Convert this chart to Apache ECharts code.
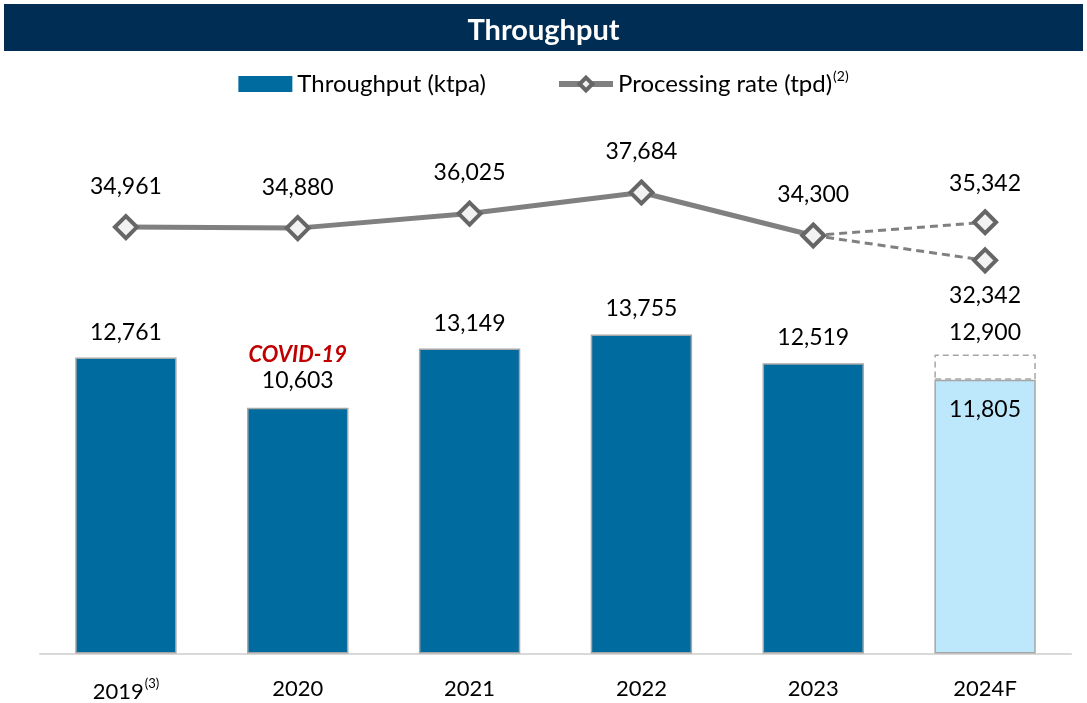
<!DOCTYPE html>
<html>
<head>
<meta charset="utf-8">
<script src="https://cdn.jsdelivr.net/npm/echarts@6/dist/echarts.min.js"></script>
<style>
  html, body { margin: 0; padding: 0; background: #fff; }
  #chart { width: 1087px; height: 703px; }
</style>
</head>
<body>
<div id="chart"></div>
<script>
// data
const years = ['2019', '2020', '2021', '2022', '2023', '2024F']
const throughput = [12761, 10603, 13149, 13755, 12519, 11805]
const throughputForecast = 12900
const rate = [34961, 34880, 36025, 37684, 34300]
const rateHigh = 35342
const rateLow = 32342

const FONT = 'Lato'
const fmt = v => Number(v).toLocaleString('en-US')

// build series arrays
const last = years.length - 1
const mainBars = throughput.map((v, i) => i === last
  ? { value: v, itemStyle: { color: '#bde7fa', borderColor: '#a6a6a6' }, label: { position: 'insideTop', distance: 18 } }
  : v)
const boxBars = years.map((y, i) => i === last ? throughputForecast - throughput[last] : null)
const rateLine = rate.concat([null])
const dashHigh = years.map((y, i) => i === last - 1 ? { value: rate[i], symbol: 'none', label: { show: false } } : (i === last ? rateHigh : null))
const dashLow = years.map((y, i) => i === last - 1 ? { value: rate[i], symbol: 'none', label: { show: false } } : (i === last ? rateLow : null))

const chart = echarts.init(document.getElementById('chart'))

const markerStyle = {
  symbol: 'diamond',
  symbolSize: 22,
  itemStyle: { color: '#f2f2f2', borderColor: '#666666', borderWidth: 4 }
}

chart.setOption({
  animation: false,
  textStyle: { fontFamily: FONT, color: '#000' },
  graphic: [{
    type: 'rect',
    shape: { x: 4, y: 4, width: 1079, height: 47 },
    style: { fill: '#002d54' },
    z: -1
  }],
  title: {
    text: 'Throughput',
    left: 'center',
    top: 11,
    textStyle: { color: '#fff', fontSize: 29, fontWeight: 'bold', fontFamily: FONT }
  },
  legend: {
    data: [
      { name: 'Throughput (ktpa)', icon: 'rect', itemStyle: { borderWidth: 0 } },
      {
        name: 'Processing rate (tpd)',
        lineStyle: { width: 6, color: '#808080' },
        itemStyle: { color: '#f2f2f2', borderColor: '#666666', borderWidth: 4 }
      }
    ],
    top: 64,
    left: 'center',
    itemGap: 70,
    itemWidth: 54,
    itemHeight: 16,
    formatter: name => name === 'Processing rate (tpd)' ? name + '{s|(2)}' : name,
    textStyle: {
      fontSize: 24,
      fontFamily: FONT,
      color: '#000',
      rich: { s: { fontSize: 14, verticalAlign: 'top', padding: [0, 0, 16, 1], fontFamily: FONT } }
    }
  },
  grid: { left: 40, right: 16, top: 97, bottom: 49 },
  xAxis: {
    type: 'category',
    data: years,
    axisLine: { lineStyle: { color: '#d9d9d9', width: 2 } },
    axisTick: { show: false },
    axisLabel: {
      fontSize: 22,
      margin: 24,
      color: '#000',
      fontFamily: FONT,
      formatter: v => v === '2019' ? v + '{s|(3)}' : v,
      rich: { s: { fontSize: 13, verticalAlign: 'top', padding: [0, 0, 16, 1], fontFamily: FONT } }
    }
  },
  yAxis: [
    { type: 'value', min: 0, max: 24000, show: false, splitLine: { show: false } },
    { type: 'value', min: 1400, max: 45200, show: false, splitLine: { show: false } }
  ],
  series: [
    {
      name: 'Throughput (ktpa)',
      type: 'bar',
      stack: 'tp',
      barWidth: '59%',
      data: mainBars,
      itemStyle: { color: '#006b9e', borderColor: '#a6a6a6', borderWidth: 1.5 },
      label: {
        show: true,
        position: 'top',
        distance: 14,
        fontSize: 23,
        color: '#000',
        fontFamily: FONT,
        formatter: p => p.dataIndex === 1 ? '{c|COVID-19}\n{v|' + fmt(p.value) + '}' : fmt(p.value),
        rich: {
          c: { color: '#c00000', fontSize: 22, fontWeight: 'bold', fontStyle: 'italic', fontFamily: FONT, lineHeight: 26 },
          v: { fontSize: 23, color: '#000', fontFamily: FONT, lineHeight: 26 }
        }
      },
      z: 2
    },
    {
      name: 'forecast',
      type: 'bar',
      stack: 'tp',
      data: boxBars,
      itemStyle: { color: '#fff', borderColor: '#a6a6a6', borderWidth: 1.5, borderType: [6, 4] },
      label: {
        show: true,
        position: 'top',
        distance: 10,
        fontSize: 23,
        color: '#000',
        fontFamily: FONT,
        formatter: () => fmt(throughputForecast)
      }
    },
    {
      name: 'dashHigh',
      type: 'line',
      yAxisIndex: 1,
      data: dashHigh,
      ...markerStyle,
      lineStyle: { color: '#808080', width: 3, type: [8, 5] },
      label: { show: true, position: 'top', distance: 14, fontSize: 23, color: '#000', fontFamily: FONT, formatter: p => fmt(p.value) },
      z: 3
    },
    {
      name: 'dashLow',
      type: 'line',
      yAxisIndex: 1,
      data: dashLow,
      ...markerStyle,
      lineStyle: { color: '#808080', width: 3, type: [8, 5] },
      label: { show: true, position: 'bottom', distance: 11, fontSize: 23, color: '#000', fontFamily: FONT, formatter: p => fmt(p.value) },
      z: 3
    },
    {
      name: 'Processing rate (tpd)',
      type: 'line',
      yAxisIndex: 1,
      data: rateLine,
      ...markerStyle,
      lineStyle: { color: '#808080', width: 5 },
      label: { show: true, position: 'top', distance: 16, fontSize: 23, color: '#000', fontFamily: FONT, formatter: p => fmt(p.value) },
      z: 4
    }
  ]
})
</script>
</body>
</html>
